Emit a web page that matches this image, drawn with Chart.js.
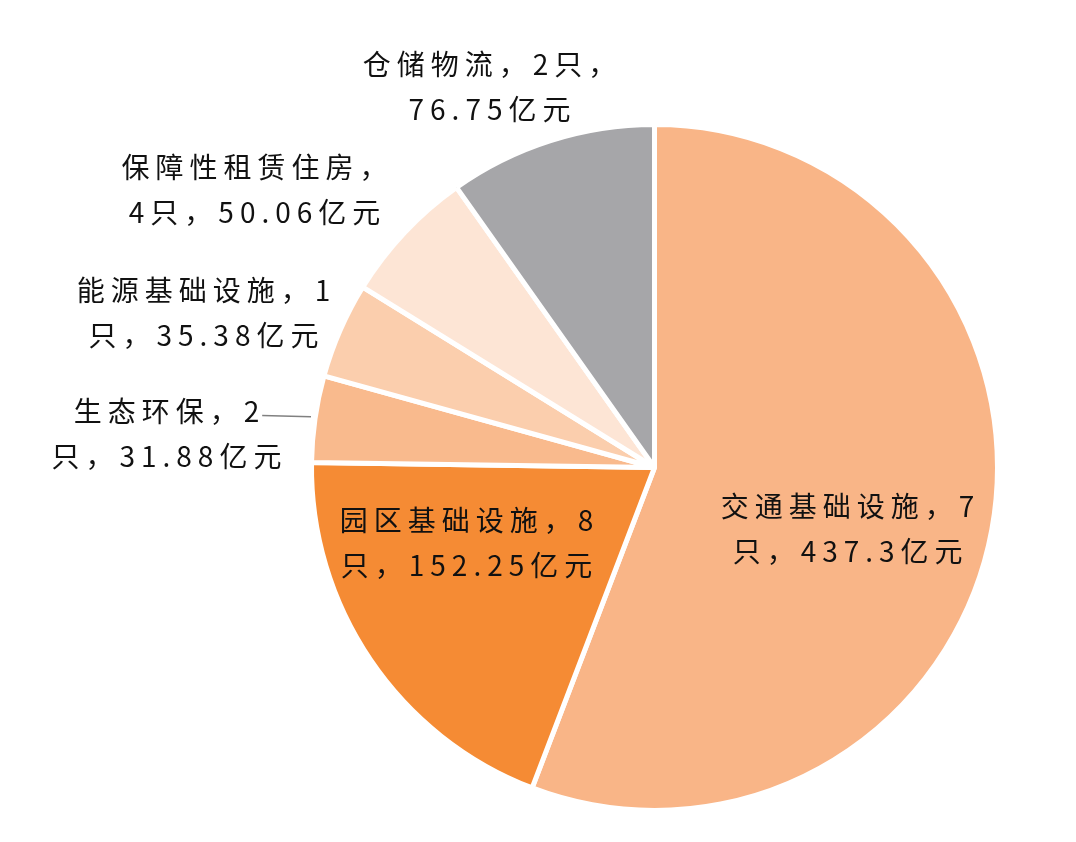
<!DOCTYPE html>
<html>
<head>
<meta charset="utf-8">
<script src="https://cdn.jsdelivr.net/npm/chart.js@4.4.0/dist/chart.umd.min.js"></script>
<style>
  html, body { margin: 0; padding: 0; background: #fff; }
  #wrap { width: 1076px; height: 842px; position: relative; }
</style>
</head>
<body>
<div id="wrap"><canvas id="pie"></canvas></div>
<script>
// data, clockwise from 12 o'clock
const categories = ["交通基础设施", "园区基础设施", "生态环保", "能源基础设施", "保障性租赁住房", "仓储物流"];
const fundCounts = [7, 8, 2, 1, 4, 2];
const amounts = ["437.3", "152.25", "31.88", "35.38", "50.06", "76.75"];

// look
const sliceColors = ["#F9B587", "#F58B34", "#F9BA8D", "#FBCEAD", "#FDE5D5", "#A6A6A9"];
const lineBreaks = [8, 8, 6, 8, 8, 8]; // chars on first label line
// label centre relative to pie centre, in units of the radius
const labelOffsets = [
  [0.563, 0.18], [-0.548, 0.219], [-1.423, -0.098],
  [-1.315, -0.45], [-1.166, -0.809], [-0.481, -1.109]
];
const leaderLines = [false, false, true, false, false, false];

function labelLines(i) {
  const full = `${categories[i]}，${fundCounts[i]}只，${amounts[i]}亿元`;
  return [full.slice(0, lineBreaks[i]), full.slice(lineBreaks[i])];
}

const pieLabels = {
  id: "pieLabels",
  afterDatasetsDraw(chart) {
    const ctx = chart.ctx;
    const arcs = chart.getDatasetMeta(0).data;
    ctx.save();
    ctx.font = '28px "Noto Sans CJK SC", sans-serif';
    ctx.letterSpacing = "6px";
    ctx.fillStyle = "#111111";
    ctx.textAlign = "center";
    ctx.textBaseline = "middle";
    const lineH = 45;
    arcs.forEach((arc, i) => {
      const r = arc.outerRadius;
      const cx = arc.x + labelOffsets[i][0] * r;
      const cy = arc.y + labelOffsets[i][1] * r;
      const lines = labelLines(i);
      lines.forEach((t, k) => {
        ctx.fillText(t, cx + 3, cy + (k - 0.5) * lineH);
      });
      if (leaderLines[i]) {
        const w = ctx.measureText(lines[0]).width;
        const mid = (arc.startAngle + arc.endAngle) / 2;
        const ex = arc.x + Math.cos(mid) * r;
        const ey = arc.y + Math.sin(mid) * r;
        ctx.beginPath();
        ctx.strokeStyle = "#808080";
        ctx.lineWidth = 1.5;
        ctx.moveTo(cx + w / 2, cy - 0.5 * lineH + 4);
        ctx.lineTo(ex - 4, ey - 2);
        ctx.stroke();
      }
    });
    ctx.restore();
  }
};

new Chart(document.getElementById("pie"), {
  type: "pie",
  data: {
    labels: categories,
    datasets: [{
      data: amounts.map(Number),
      backgroundColor: sliceColors,
      borderColor: "#ffffff",
      borderWidth: 5
    }]
  },
  options: {
    responsive: true,
    maintainAspectRatio: false,
    animation: false,
    layout: { padding: { left: 309, right: 76, top: 122, bottom: 29 } },
    plugins: {
      legend: { display: false },
      tooltip: { enabled: false }
    }
  },
  plugins: [pieLabels]
});
</script>
</body>
</html>
